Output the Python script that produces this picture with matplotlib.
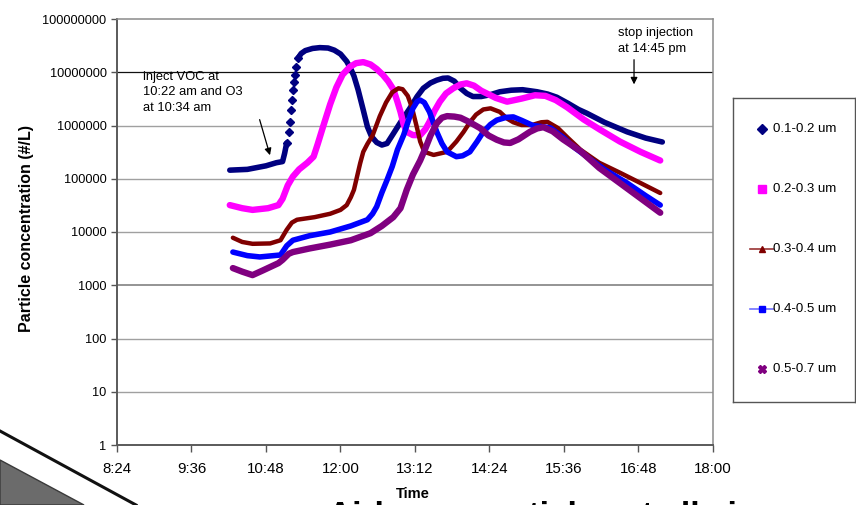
import matplotlib
matplotlib.use('Agg')
import matplotlib.pyplot as plt
from matplotlib.patches import Polygon
from matplotlib.ticker import NullLocator
import numpy as np

plt.rcParams['font.family'] = ['Liberation Sans', 'DejaVu Sans']

W, H = 856, 505


def hrs(stamps):
    return np.array([int(s.split(':')[0]) + int(s.split(':')[1]) / 60 for s in stamps])


# 0.1-0.2 um -- logger only caught a handful of points on the fast climb
s1_early_t = ['10:13', '10:30', '10:48', '10:58', '11:04', '11:06', '11:08']
s1_early_v = [1.45e5, 1.5e5, 1.75e5, 2.0e5, 2.1e5, 3.0e5, 4.7e5]
s1_climb_t = ['11:08', '11:10', '11:11', '11:12', '11:13', '11:14', '11:15', '11:16', '11:17', '11:19']
s1_climb_v = [4.7e5, 7.6e5, 1.17e6, 1.95e6, 3.0e6, 4.7e6, 6.6e6, 8.9e6, 1.26e7, 1.85e7]
s1_late_t = ['11:19', '11:22', '11:26', '11:33', '11:40', '11:48', '11:54', '12:00', '12:06', '12:10',
             '12:13', '12:17', '12:22', '12:26', '12:30', '12:35', '12:40', '12:45', '12:51', '12:58',
             '13:07', '13:14', '13:20', '13:27', '13:33', '13:39', '13:44', '13:50', '13:56', '14:02',
             '14:08', '14:16', '14:25', '14:34', '14:45', '14:56', '15:10', '15:20', '15:29', '15:40',
             '15:50', '15:58', '16:15', '16:37', '16:55', '17:11']
s1_late_v = [1.85e7, 2.25e7, 2.55e7, 2.8e7, 2.9e7, 2.85e7, 2.6e7, 2.2e7, 1.6e7, 1.15e7,
             8.5e6, 4.7e6, 1.95e6, 9.5e5, 6.2e5, 4.8e5, 4.3e5, 4.6e5, 7.0e5, 1.15e6,
             2.1e6, 3.5e6, 5.0e6, 6.3e6, 7.1e6, 7.7e6, 7.8e6, 6.8e6, 5.0e6, 4.0e6,
             3.5e6, 3.5e6, 3.8e6, 4.3e6, 4.6e6, 4.7e6, 4.3e6, 3.9e6, 3.4e6, 2.6e6,
             2.0e6, 1.7e6, 1.15e6, 7.6e5, 5.8e5, 4.9e5]

# 0.2-0.3 um
s2_t = ['10:13', '10:25', '10:35', '10:50', '11:00', '11:04', '11:09', '11:14', '11:20', '11:28',
        '11:34', '11:38', '11:43', '11:50', '11:56', '12:02', '12:09', '12:15', '12:22', '12:29',
        '12:35', '12:41', '12:46', '12:51', '12:55', '12:58', '13:01', '13:04', '13:10', '13:17',
        '13:22', '13:26', '13:31', '13:36', '13:42', '13:49', '13:56', '14:02', '14:09', '14:16',
        '14:30', '14:41', '14:55', '15:08', '15:18', '15:28', '15:39', '15:55', '16:11', '16:30',
        '16:50', '17:09']
s2_v = [3.2e4, 2.8e4, 2.6e4, 2.8e4, 3.2e4, 4.2e4, 7.5e4, 1.1e5, 1.5e5, 2.0e5,
        2.6e5, 4.5e5, 9.3e5, 2.5e6, 5.2e6, 9.0e6, 1.26e7, 1.48e7, 1.55e7, 1.4e7,
        1.15e7, 8.9e6, 6.8e6, 4.8e6, 2.8e6, 1.8e6, 1.05e6, 7.6e5, 6.6e5, 6.6e5,
        8.5e5, 1.17e6, 1.9e6, 2.8e6, 4.0e6, 5.0e6, 5.9e6, 6.2e6, 5.6e6, 4.5e6,
        3.3e6, 2.8e6, 3.2e6, 3.7e6, 3.6e6, 3.0e6, 2.2e6, 1.3e6, 8.3e5, 5.0e5,
        3.2e5, 2.2e5]

# 0.3-0.4 um
s3_t = ['10:16', '10:25', '10:35', '10:52', '11:02', '11:08', '11:13', '11:18', '11:35', '11:50',
        '12:00', '12:06', '12:10', '12:13', '12:16', '12:19', '12:22', '12:26', '12:31', '12:38',
        '12:44', '12:50', '12:56', '13:00', '13:05', '13:09', '13:14', '13:17', '13:21', '13:30',
        '13:43', '13:52', '13:59', '14:05', '14:11', '14:18', '14:25', '14:34', '14:41', '14:47',
        '14:55', '15:05', '15:14', '15:20', '15:30', '15:40', '15:52', '16:10', '16:30', '16:50',
        '17:09']
s3_v = [7.8e3, 6.5e3, 6.0e3, 6.1e3, 7.0e3, 1.1e4, 1.5e4, 1.7e4, 1.9e4, 2.2e4,
        2.6e4, 3.2e4, 4.5e4, 6.2e4, 1.1e5, 1.95e5, 3.2e5, 4.5e5, 6.5e5, 1.5e6,
        2.7e6, 4.2e6, 5.0e6, 4.8e6, 3.6e6, 2.2e6, 8.9e5, 5.0e5, 3.2e5, 2.8e5,
        3.2e5, 5.0e5, 7.6e5, 1.15e6, 1.6e6, 2.0e6, 2.1e6, 1.8e6, 1.35e6, 1.15e6,
        1.02e6, 1.02e6, 1.15e6, 1.17e6, 9.0e5, 5.8e5, 3.5e5, 2.0e5, 1.3e5, 8.3e4,
        5.4e4]

# 0.4-0.5 um
s4_t = ['10:16', '10:30', '10:42', '11:02', '11:08', '11:14', '11:30', '11:50', '12:10', '12:26',
        '12:31', '12:35', '12:40', '12:45', '12:50', '12:55', '13:01', '13:06', '13:10', '13:14',
        '13:17', '13:21', '13:26', '13:30', '13:33', '13:38', '13:43', '13:52', '13:58', '14:05',
        '14:12', '14:18', '14:25', '14:31', '14:40', '14:47', '14:55', '15:06', '15:15', '15:23',
        '15:35', '15:45', '15:58', '16:15', '16:37', '16:55', '17:09']
s4_v = [4.2e3, 3.6e3, 3.4e3, 3.7e3, 5.5e3, 7.0e3, 8.5e3, 1.0e4, 1.3e4, 1.7e4,
        2.2e4, 3.0e4, 5.5e4, 9.5e4, 1.7e5, 3.5e5, 6.6e5, 1.3e6, 2.1e6, 2.8e6,
        3.0e6, 2.7e6, 1.8e6, 1.1e6, 7.6e5, 4.6e5, 3.2e5, 2.6e5, 2.7e5, 3.2e5,
        5.0e5, 7.6e5, 1.05e6, 1.26e6, 1.42e6, 1.45e6, 1.25e6, 1.0e6, 9.5e5, 9.0e5,
        6.0e5, 4.0e5, 2.6e5, 1.5e5, 8.3e4, 4.8e4, 3.2e4]

# 0.5-0.7 um
s5_t = ['10:16', '10:25', '10:35', '10:45', '10:52', '11:00', '11:04', '11:10', '11:14', '11:30',
        '11:50', '12:10', '12:29', '12:40', '12:51', '12:58', '13:04', '13:10', '13:17', '13:22',
        '13:27', '13:33', '13:38', '13:43', '13:50', '13:56', '14:05', '14:15', '14:23', '14:31',
        '14:38', '14:44', '14:52', '15:03', '15:10', '15:16', '15:25', '15:35', '15:52', '16:10',
        '16:30', '16:50', '17:09']
s5_v = [2.1e3, 1.8e3, 1.55e3, 1.9e3, 2.2e3, 2.6e3, 3.0e3, 3.9e3, 4.2e3, 4.9e3,
        5.8e3, 7.0e3, 9.5e3, 1.3e4, 1.9e4, 2.8e4, 6.2e4, 1.2e5, 2.2e5, 3.7e5,
        6.5e5, 1.1e6, 1.4e6, 1.5e6, 1.47e6, 1.4e6, 1.15e6, 8.9e5, 6.5e5, 5.4e5,
        4.8e5, 4.7e5, 5.5e5, 7.6e5, 8.8e5, 9.3e5, 7.8e5, 5.5e5, 3.3e5, 1.6e5,
        8.3e4, 4.3e4, 2.3e4]

labels = ['0.1-0.2 um', '0.2-0.3 um', '0.3-0.4 um', '0.4-0.5 um', '0.5-0.7 um']
colors = ['#000080', '#ff00ff', '#800000', '#0000ff', '#800080']

x_ticks = ['8:24', '9:36', '10:48', '12:00', '13:12', '14:24', '15:36', '16:48', '18:00']
y_ticks = [1, 10, 100, 1000, 10000, 100000, 1000000, 10000000, 100000000]

fig = plt.figure(figsize=(W / 100, H / 100), dpi=100)

# slide decoration in the lower left corner, drawn in pixel space
deco = fig.add_axes([0, 0, 1, 1], zorder=0)
deco.set_xlim(0, W)
deco.set_ylim(H, 0)
deco.axis('off')
deco.add_patch(Polygon([(0, 460), (84, 505), (0, 505)], closed=True,
                       facecolor='#6b6b6b', edgecolor='#3a3a3a', lw=1))
deco.plot([0, 136], [431, 505], color='#111111', lw=2.2)

ax = fig.add_axes([117 / W, 1 - 445 / H, 596 / W, 426 / H], zorder=2)
ax.set_yscale('log')
ax.set_ylim(1, 1e8)
ax.set_xlim(hrs(['8:24'])[0], hrs(['18:00'])[0])
ax.patch.set_alpha(0)

for v in y_ticks[1:-1]:
    if v == 1e7:
        c, lw = '#111111', 0.9
    elif v == 1e3:
        c, lw = '#777777', 1.1
    else:
        c, lw = '#a0a0a0', 1.0
    ax.axhline(v, color=c, lw=lw, zorder=1)

band = dict(solid_capstyle='round', solid_joinstyle='round')
ax.plot(hrs(s1_early_t), s1_early_v, color=colors[0], lw=4, zorder=3, **band)
ax.plot(hrs(s1_climb_t), s1_climb_v, 'D', color=colors[0], ms=4.5, ls='none', zorder=3)
ax.plot(hrs(s1_late_t), s1_late_v, color=colors[0], lw=4, zorder=3, **band)
ax.plot(hrs(s2_t), s2_v, color=colors[1], lw=4.6, zorder=4, **band)
ax.plot(hrs(s3_t), s3_v, color=colors[2], lw=3.2, zorder=5, **band)
ax.plot(hrs(s4_t), s4_v, color=colors[3], lw=4, zorder=6, **band)
ax.plot(hrs(s5_t), s5_v, color=colors[4], lw=4.6, zorder=7, **band)

ax.set_yticks(y_ticks)
ax.set_yticklabels([str(v) for v in y_ticks], fontsize=9.2)
ax.yaxis.set_minor_locator(NullLocator())
ax.set_xticks(hrs(x_ticks))
ax.set_xticklabels(x_ticks, fontsize=10.8)
ax.tick_params(axis='y', length=4, width=1, color='#555555', pad=3.5)
ax.tick_params(axis='x', length=5, width=1, color='#555555', pad=7.5)
for side in ['left', 'bottom']:
    ax.spines[side].set_color('#5a5a5a')
    ax.spines[side].set_linewidth(1.4)
for side in ['top', 'right']:
    ax.spines[side].set_color('#8a8a8a')
    ax.spines[side].set_linewidth(1.1)

ax.text(0.0436, 0.879, 'inject VOC at\n10:22 am and O3\nat 10:34 am', transform=ax.transAxes,
        fontsize=9.3, va='top', ha='left', linespacing=1.42, zorder=8)
ax.annotate('', xy=(0.258, 0.674), xytext=(0.238, 0.770), xycoords='axes fraction',
            arrowprops=dict(arrowstyle='-|>', color='k', lw=0.9, mutation_scale=10))
ax.text(0.841, 0.981, 'stop injection\nat 14:45 pm', transform=ax.transAxes,
        fontsize=9.3, va='top', ha='left', linespacing=1.42, zorder=8)
ax.annotate('', xy=(0.8675, 0.840), xytext=(0.8675, 0.911), xycoords='axes fraction',
            arrowprops=dict(arrowstyle='-|>', color='k', lw=0.9, mutation_scale=10))

fig.text(27 / W, 1 - 229 / H, 'Particle concentration (#/L)', rotation=90, ha='center',
         va='center', fontsize=11.5, fontweight='bold')
fig.text(413 / W, 1 - 494 / H, 'Time', ha='center', va='center', fontsize=10.5, fontweight='bold')

# heading of the next slide block, mostly below the frame
fig.text(328 / W, 1 - 525 / H, 'Airborne particles at all sizes', ha='left', va='baseline',
         fontsize=24, fontweight='bold')

# legend box
lax = fig.add_axes([733 / W, 1 - 402 / H, 122 / W, 304 / H], zorder=3)
lax.set_xlim(0, 122)
lax.set_ylim(304, 0)
lax.set_xticks([])
lax.set_yticks([])
for sp in lax.spines.values():
    sp.set_color('#555555')
    sp.set_linewidth(1.0)
markers = ['D', 's', '^', 's', 'X']
msizes = [5, 6, 4.5, 4, 6]
handle_lines = [None, None, '#993333', '#6f6fff', None]
for i, lab in enumerate(labels):
    yy = 31 + 60 * i
    if handle_lines[i]:
        lax.plot([17, 40], [yy, yy], color=handle_lines[i], lw=1.2)
    lax.plot([29], [yy], markers[i], color=colors[i], ms=msizes[i])
    lax.text(40, yy, lab, fontsize=9.5, va='center', ha='left')

fig.savefig('out.png', dpi=100)
